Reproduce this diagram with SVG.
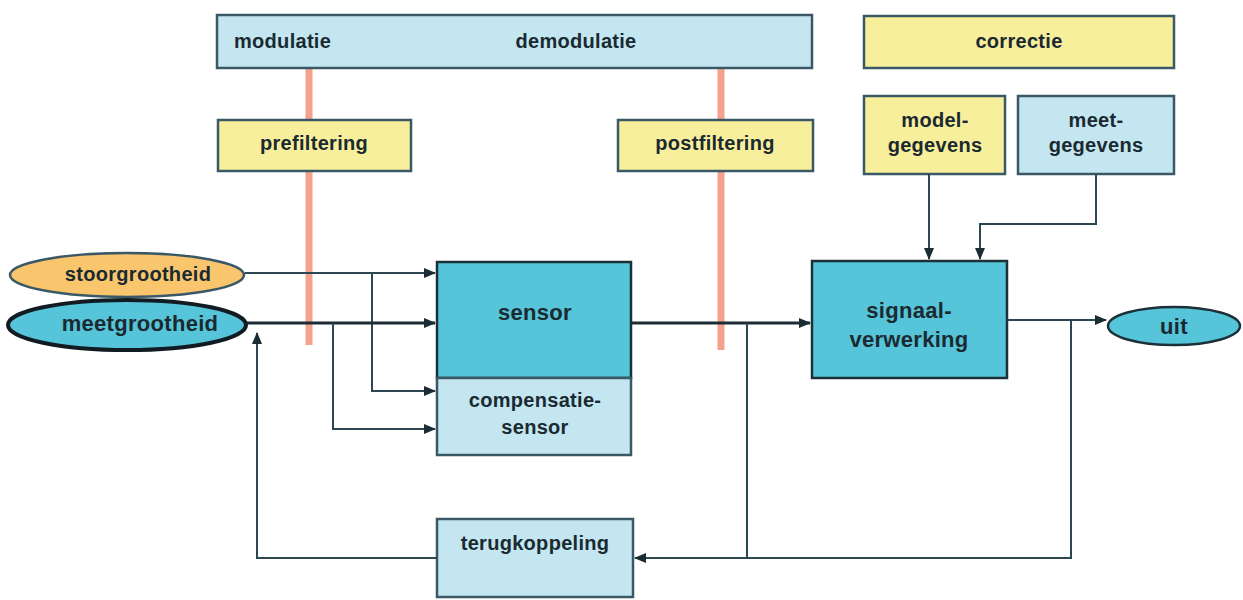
<svg xmlns="http://www.w3.org/2000/svg" width="1243" height="600" viewBox="0 0 1243 600">
<style>
text{font-family:"Liberation Sans",Arial,sans-serif;font-weight:bold;fill:#1a2a30;text-anchor:middle;letter-spacing:0.3px}
.t20{font-size:20px}
.t22{font-size:22px}
.dark{fill:#56c4d9;stroke:#1c3038;stroke-width:2.5}
.light{fill:#c3e6f0;stroke:#3a5866;stroke-width:2.5}
.yellow{fill:#f8ef9c;stroke:#3a5866;stroke-width:2.5}
.orange{fill:#f9c66e;stroke:#3a5866;stroke-width:2.5}
.salmon{stroke:#f4a28e;stroke-width:7;fill:none}
.con{fill:none;stroke:#2c4652;stroke-width:2}
.thick{fill:none;stroke:#1c2c34;stroke-width:3}
</style>
<defs>
<marker id="ah" markerUnits="userSpaceOnUse" markerWidth="12" markerHeight="12" viewBox="0 0 12 12" refX="11" refY="6" orient="auto">
<path d="M0,1 L12,6 L0,11 Z" fill="#1c2c34"/>
</marker>
</defs>
<rect width="1243" height="600" fill="#ffffff"/>
<g id="bars">
<line class="salmon" x1="309" y1="68" x2="309" y2="345"/>
<line class="salmon" x1="721" y1="68" x2="721" y2="350"/>
</g>
<g id="modulatie-box">
<rect class="light" x="217" y="15" width="595" height="53"/>
<text class="t20" x="234" y="48" style="text-anchor:start">modulatie</text>
<text class="t20" x="576" y="48">demodulatie</text>
</g>
<g id="correctie">
<rect class="yellow" x="864" y="16" width="310" height="52"/>
<text class="t20" x="1019" y="48">correctie</text>
</g>
<g id="prefiltering">
<rect class="yellow" x="218" y="120" width="193" height="51"/>
<text class="t20" x="314" y="150">prefiltering</text>
</g>
<g id="postfiltering">
<rect class="yellow" x="618" y="120" width="195" height="51"/>
<text class="t20" x="715" y="150">postfiltering</text>
</g>
<g id="modelgegevens">
<rect class="yellow" x="864" y="96" width="141" height="78"/>
<text class="t20" x="935" y="127">model-</text>
<text class="t20" x="935" y="152">gegevens</text>
</g>
<g id="meetgegevens">
<rect class="light" x="1018" y="96" width="156" height="78"/>
<text class="t20" x="1096" y="127">meet-</text>
<text class="t20" x="1096" y="152">gegevens</text>
</g>
<g id="stoorgrootheid">
<ellipse class="orange" cx="127" cy="275" rx="117" ry="22"/>
<text class="t20" x="138" y="281">stoorgrootheid</text>
</g>
<g id="meetgrootheid">
<ellipse cx="127" cy="325" rx="119" ry="25" fill="#56c4d9" stroke="#111c22" stroke-width="4"/>
<text class="t22" x="140" y="331">meetgrootheid</text>
</g>
<g id="sensor">
<rect class="dark" x="437" y="262" width="194" height="116"/>
<text class="t22" x="535" y="320">sensor</text>
</g>
<g id="compensatiesensor">
<rect class="light" x="437" y="378" width="194" height="77"/>
<text class="t20" x="535" y="407">compensatie-</text>
<text class="t20" x="535" y="434">sensor</text>
</g>
<g id="signaalverwerking">
<rect class="dark" x="812" y="261" width="195" height="117"/>
<text class="t22" x="909" y="318">signaal-</text>
<text class="t22" x="909" y="347">verwerking</text>
</g>
<g id="uit">
<ellipse class="dark" cx="1174" cy="326" rx="66" ry="19"/>
<text class="t22" x="1174" y="334">uit</text>
</g>
<g id="terugkoppeling">
<rect class="light" x="437" y="519" width="196" height="78"/>
<text class="t20" x="535" y="550">terugkoppeling</text>
</g>
<g id="connectors">
<path class="con" d="M245 273 H435" marker-end="url(#ah)"/>
<path class="con" d="M372 273 V391 H435" marker-end="url(#ah)"/>
<path class="thick" d="M247 323 H435" marker-end="url(#ah)"/>
<path class="con" d="M333 323 V429 H435" marker-end="url(#ah)"/>
<path class="thick" d="M631 323 H810" marker-end="url(#ah)"/>
<path class="con" d="M747 323 V558"/>
<path class="con" d="M1007 320 H1106" marker-end="url(#ah)"/>
<path class="con" d="M1071 320 V558 H635" marker-end="url(#ah)"/>
<path class="con" d="M437 558 H257 V333" marker-end="url(#ah)"/>
<path class="con" d="M929 174 V259" marker-end="url(#ah)"/>
<path class="con" d="M1096 174 V224 H980 V259" marker-end="url(#ah)"/>
</g>
</svg>
